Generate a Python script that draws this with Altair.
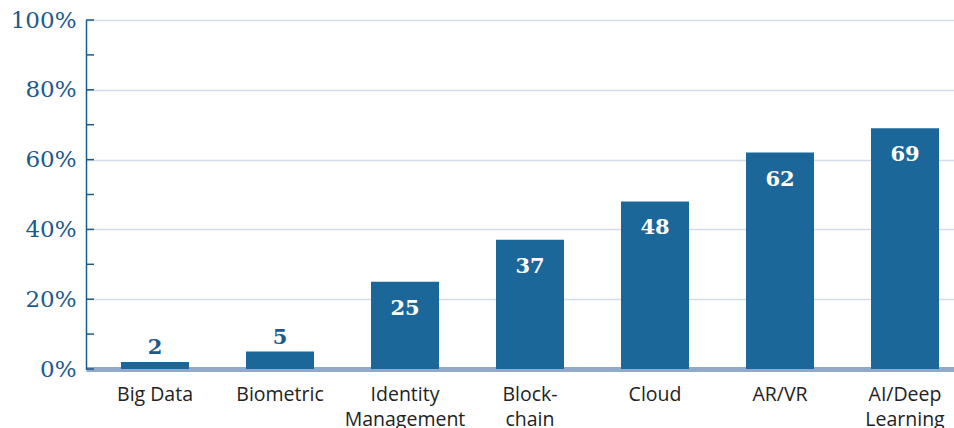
import altair as alt
import pandas as pd

categories = ["Big Data", "Biometric", "Identity\nManagement", "Block-\nchain", "Cloud", "AR/VR", "AI/Deep\nLearning"]
values = [2, 5, 25, 37, 48, 62, 69]
tick_values = [0, 10, 20, 30, 40, 50, 60, 70, 80, 90, 100]

df = pd.DataFrame({"cat": categories, "val": values})
ticks = pd.DataFrame({"t": tick_values})

BAR = "#1b6799"
DARK = "#1d5a8c"

xscale = alt.Scale(domain=categories, paddingInner=0.456, paddingOuter=0.2, align=0.7)
yscale = alt.Scale(domain=[0, 100], nice=False)

x = alt.X("cat:N", sort=categories, scale=xscale, title=None,
          axis=alt.Axis(labelAngle=0, labelFont="Open Sans", labelFontSize=19.5,
                        labelColor="#222222", labelPadding=16, labelLineHeight=25,
                        labelBaseline="top",
                        labelExpr="split(datum.label, '\\n')", ticks=False,
                        domainColor="#93a9c9", domainWidth=5, grid=False))

bars = alt.Chart(df).mark_bar(color=BAR).encode(
    x=x,
    y=alt.Y("val:Q", scale=yscale, title=None,
            axis=alt.Axis(values=tick_values, grid=True, gridColor="#d3dcea", gridWidth=1.5,
                          labelExpr="datum.value % 20 == 0 ? datum.value + '%' : ''",
                          labelFont="DejaVu Serif", labelFontSize=23, labelColor=DARK,
                          labelPadding=10, ticks=False, domainColor=DARK, domainWidth=1.5)),
)

tickmarks = alt.Chart(ticks).mark_rule(color=DARK, strokeWidth=1.5).encode(
    x=alt.value(0), x2=alt.value(8), y=alt.Y("t:Q", scale=yscale)
)

inside = alt.Chart(df).transform_filter("datum.val >= 10").mark_text(
    color="white", font="DejaVu Serif", fontWeight="bold", fontSize=21, baseline="top", dy=16
).encode(x=alt.X("cat:N", sort=categories, scale=xscale), y=alt.Y("val:Q", scale=yscale), text="val:Q")

outside = alt.Chart(df).transform_filter("datum.val < 10").mark_text(
    color=DARK, font="DejaVu Serif", fontWeight="bold", fontSize=21, baseline="bottom", dy=-4
).encode(x=alt.X("cat:N", sort=categories, scale=xscale), y=alt.Y("val:Q", scale=yscale), text="val:Q")

chart = alt.layer(bars, tickmarks, inside, outside).properties(
    width=868, height=349,
    autosize=alt.AutoSizeParams(type="none"),
    padding={"left": 86, "top": 20, "right": 0, "bottom": 59},
).configure_view(stroke=None).configure(background="white")

chart.save("out.html", embed_options={"renderer": "svg", "actions": False})
